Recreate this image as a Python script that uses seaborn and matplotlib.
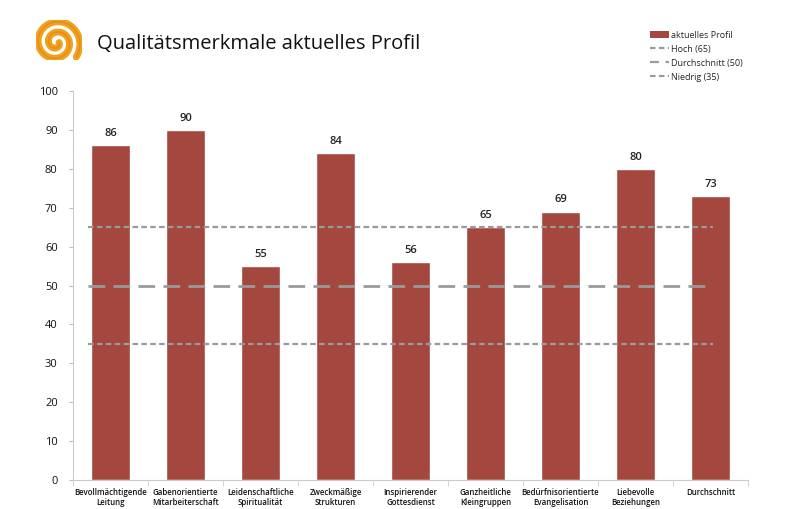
import numpy as np
import pandas as pd
import matplotlib.pyplot as plt
import seaborn as sns
from matplotlib.lines import Line2D
from matplotlib.patches import Patch

# ----------------------------------------------------------
# Data
# ----------------------------------------------------------
categories = [
    "Bevollmächtigende\nLeitung", "Gabenorientierte\nMitarbeiterschaft",
    "Leidenschaftliche\nSpiritualität", "Zweckmäßige\nStrukturen",
    "Inspirierender\nGottesdienst", "Ganzheitliche\nKleingruppen",
    "Bedürfnisorientierte\nEvangelisation", "Liebevolle\nBeziehungen",
    "Durchschnitt",
]
values = [86, 90, 55, 84, 56, 65, 69, 80, 73]
ref_names = ["Hoch (65)", "Durchschnitt (50)", "Niedrig (35)"]
ref_values = [65, 50, 35]

df = pd.DataFrame({"Merkmal": categories, "Wert": values})

BAR_COLOR = "#A3473F"
REF_COLOR = "#9A9A9A"
ref_styles = [(0, (2.5, 1.5)), (0, (6, 3)), (0, (2.5, 1.5))]
ref_widths = [1.6, 2.0, 1.6]

# ----------------------------------------------------------
# Figure
# ----------------------------------------------------------
sns.set_style("white")
plt.rcParams["font.family"] = ["Open Sans", "DejaVu Sans"]

fig = plt.figure(figsize=(7.87, 5.09), dpi=100)
ax = fig.add_axes([73 / 787, 1 - 480 / 509, 675 / 787, 389 / 509])

sns.barplot(data=df, x="Merkmal", y="Wert", color=BAR_COLOR, width=0.53,
            saturation=1, ax=ax)

n = len(categories)
for val, ls, lw in zip(ref_values, ref_styles, ref_widths):
    ax.hlines(val, -0.3, n - 0.97, colors=REF_COLOR, linestyles=[ls], linewidth=lw)

for i, v in enumerate(values):
    ax.text(i, v + 1.6, f"{v}", ha="center", va="bottom", fontsize=8,
            fontweight="semibold", color="#222222")

ax.set_ylim(0, 100)
ax.set_xlim(-0.5, n - 0.5)
ax.set_yticks(range(0, 101, 10))
ax.set_xlabel("")
ax.set_ylabel("")
ax.set_xticks(range(n))
ax.set_xticklabels(categories, fontsize=5.7, fontweight="semibold",
                   color="#111111", linespacing=1.15)
ax.tick_params(axis="x", length=0, pad=6)
ax.tick_params(axis="y", labelsize=8, length=3, color="#BBBBBB", left=True,
               pad=8, labelcolor="#111111")
# boundary ticks between categories
ax.set_xticks(np.arange(-0.5, n), minor=True)
ax.tick_params(axis="x", which="minor", length=4, color="#CCCCCC", bottom=True)

for side in ["top", "right"]:
    ax.spines[side].set_visible(False)
ax.spines["left"].set_color("#CCCCCC")
ax.spines["bottom"].set_color("#CCCCCC")

# ----------------------------------------------------------
# Title and logo
# ----------------------------------------------------------
fig.text(97 / 787, 1 - 44 / 509, "Qualitätsmerkmale aktuelles Profil",
         fontsize=14.5, va="center", ha="left", color="#111111")

lax = fig.add_axes([36 / 787, 1 - 64 / 509, 46 / 787, 48 / 509])
t = np.linspace(0, 4.2 * np.pi, 300)
r = 0.12 + 0.075 * t
lax.plot(r * np.cos(t), -r * np.sin(t), color="#F0A21E", lw=5,
         solid_capstyle="round")
lax.plot(r * np.cos(t), -r * np.sin(t), color="#E07A10", lw=1.2, alpha=0.5)
lax.set_aspect("equal")
lax.axis("off")

# ----------------------------------------------------------
# Legend
# ----------------------------------------------------------
handles = [Patch(facecolor=BAR_COLOR, edgecolor="none")]
legend_styles = [(0, (2.5, 1.5)), (0, (4, 3)), (0, (2.5, 1.5))]
for ls in legend_styles:
    handles.append(Line2D([0], [0], color=REF_COLOR, linestyle=ls, linewidth=1.6))
fig.legend(handles, ["aktuelles Profil"] + ref_names,
           loc="upper left", bbox_to_anchor=(646 / 787, 1 - 27 / 509),
           frameon=False, fontsize=6.5, handlelength=2.2, handleheight=0.7,
           handletextpad=0.2, labelspacing=0.55, borderaxespad=0)

fig.savefig("out.png", dpi=100)
